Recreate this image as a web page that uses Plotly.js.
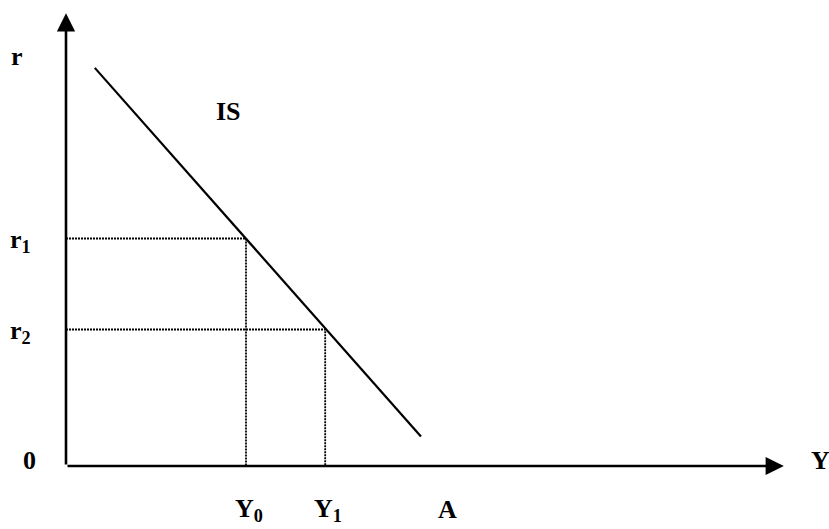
<!DOCTYPE html>
<html>
<head>
<meta charset="utf-8">
<script src="https://cdn.plot.ly/plotly-3.0.1.min.js"></script>
<style>
  html, body { margin: 0; padding: 0; background: #ffffff; }
  #chart { width: 829px; height: 529px; }
</style>
</head>
<body>
<div id="chart"></div>
<script>
// IS curve: income Y on the horizontal axis, interest rate r on the vertical axis
const isCurveY = [4, 49.3];
const isCurveR = [87.5, 6.5];

// income levels and the matching interest rates on the IS curve
const incomeLevels = [25, 36];       // Y0, Y1
const rateLevels = [50, 30];         // r1, r2
const incomeLabels = ['Y<sub>0</sub>', 'Y<sub>1</sub>'];
const rateLabels = ['r<sub>1</sub>', 'r<sub>2</sub>'];

// autonomous-spending intercept of the IS curve on the income axis
const interceptA = 53;
const interceptLabel = 'A';

const axisMax = 100;

const ink = '#000000';
const labelFont = { family: 'Liberation Serif', size: 26, color: ink, weight: 700 };
const bold = s => '<b>' + s + '</b>';

const traces = [];

// dotted guides from each axis to the IS curve
incomeLevels.forEach((y, i) => {
  const r = rateLevels[i];
  traces.push({
    x: [0, y, y], y: [r, r, 0],
    mode: 'lines', type: 'scatter', hoverinfo: 'skip', showlegend: false,
    line: { color: ink, width: 1.8, dash: '2px,1px' }
  });
});

// the IS curve itself
traces.push({
  x: isCurveY, y: isCurveR,
  mode: 'lines', type: 'scatter', hoverinfo: 'skip', showlegend: false,
  line: { color: ink, width: 2.2 }
});

const annotations = [];

// axes drawn as arrows from the origin
const arrowStyle = { text: '', showarrow: true, arrowhead: 2, arrowsize: 1.4, arrowwidth: 2.6,
  arrowcolor: ink, standoff: 0, xref: 'x', yref: 'y', axref: 'x', ayref: 'y' };
annotations.push(Object.assign({ x: axisMax - 0.3, y: 0, ax: 0, ay: 0 }, arrowStyle));
annotations.push(Object.assign({ x: 0, y: axisMax - 0.5, ax: 0, ay: 0 }, arrowStyle));

// axis names and origin
annotations.push({ x: 0, y: 90, xref: 'x', yref: 'y', xshift: -49, text: bold('r'),
  showarrow: false, font: labelFont, xanchor: 'center', yanchor: 'middle' });
annotations.push({ x: axisMax, y: 0, xref: 'x', yref: 'y', xshift: 34, yshift: 6, text: bold('Y'),
  showarrow: false, font: labelFont, xanchor: 'center', yanchor: 'middle' });
annotations.push({ x: 0, y: 0, xref: 'x', yref: 'y', xshift: -37, yshift: 6, text: bold('0'),
  showarrow: false, font: labelFont, xanchor: 'center', yanchor: 'middle' });

// curve name
annotations.push({ x: 22.5, y: 78, xref: 'x', yref: 'y', text: bold('IS'),
  showarrow: false, font: labelFont, xanchor: 'center', yanchor: 'middle' });

// rate labels on the vertical axis
rateLevels.forEach((r, i) => {
  annotations.push({ x: 0, y: r, xref: 'x', yref: 'y', xshift: -58, yshift: -2, text: bold(rateLabels[i]),
    showarrow: false, font: labelFont, xanchor: 'left', yanchor: 'middle' });
});

// income labels under the horizontal axis
incomeLevels.forEach((y, i) => {
  annotations.push({ x: y, y: 0, xref: 'x', yref: 'y', xshift: 3, yshift: -44, text: bold(incomeLabels[i]),
    showarrow: false, font: labelFont, xanchor: 'center', yanchor: 'middle' });
});
annotations.push({ x: interceptA, y: 0, xref: 'x', yref: 'y', yshift: -43, text: bold(interceptLabel),
  showarrow: false, font: labelFont, xanchor: 'center', yanchor: 'middle' });

const hiddenAxis = {
  range: [0, axisMax], showgrid: false, zeroline: false, showline: false,
  showticklabels: false, ticks: '', fixedrange: true
};

const layout = {
  width: 829, height: 529,
  margin: { l: 66, r: 43, t: 11, b: 63, pad: 0 },
  paper_bgcolor: '#ffffff', plot_bgcolor: '#ffffff',
  xaxis: Object.assign({}, hiddenAxis),
  yaxis: Object.assign({}, hiddenAxis),
  showlegend: false,
  annotations: annotations
};

Plotly.newPlot('chart', traces, layout, { staticPlot: true, displayModeBar: false });
</script>
</body>
</html>
